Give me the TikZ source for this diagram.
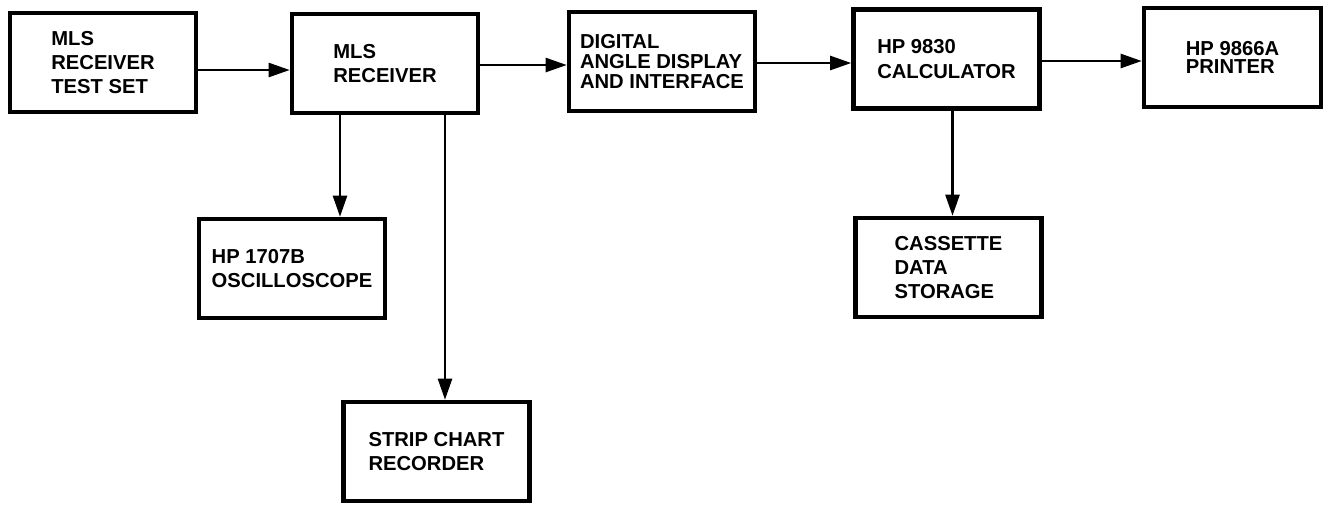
\documentclass[tikz,border=0pt]{standalone}
\usepackage{fontspec}
\setmainfont{Liberation Sans}
\usepackage{xcolor}
\usepackage{tikz}
\usetikzlibrary{arrows.meta, positioning}

\begin{document}
\begin{tikzpicture}[
    unit/.style={draw,line width=2.6pt,minimum width=3.72cm,minimum height=1.98cm,
      font=\fontsize{11.5}{13.5}\selectfont\bfseries,align=left,inner sep=2pt},
    arrow/.style={-{Triangle[length=0.42cm,width=0.28cm]},line width=1.4pt},
    >=Stealth
  ]
  \useasboundingbox (0,0) rectangle (26.56,-10.12);

  % Main chain (top row)
  \node[unit] (testset) at (2.06,-1.25) {MLS\\RECEIVER\\TEST SET};
  \node[unit] (receiver) at (7.70,-1.27) {MLS\\RECEIVER};
  \node[unit,font=\fontsize{11.5}{11.6}\selectfont\bfseries] (display) at (13.24,-1.23)
    {DIGITAL\\ANGLE DISPLAY\\AND INTERFACE};
  \node[unit,font=\fontsize{11.5}{14.2}\selectfont\bfseries] (calc) at (18.93,-1.18)
    {HP 9830\\CALCULATOR};
  \node[unit,minimum width=3.54cm,font=\fontsize{11.5}{10.6}\selectfont\bfseries]
    (printer) at (24.65,-1.15) {HP 9866A\\PRINTER};

  % Outputs below
  \node[unit] (scope) at (5.84,-5.37) {HP 1707B\\OSCILLOSCOPE};
  \node[unit] (strip) at (8.73,-9.03) {STRIP CHART\\RECORDER};
  \node[unit] (cassette) at (18.97,-5.35) {CASSETTE\\DATA\\STORAGE};

  % Signal flow
  \draw[arrow] ([yshift=-0.15cm]testset.east) -- ([yshift=-0.15cm]testset.east -| receiver.west);
  \draw[arrow] ([yshift=-0.03cm]receiver.east) -- ([yshift=-0.03cm]receiver.east -| display.west);
  \draw[arrow] ([yshift=-0.03cm]display.east) -- ([yshift=-0.03cm]display.east -| calc.west);
  \draw[arrow] ([yshift=-0.04cm]calc.east) -- ([yshift=-0.04cm]calc.east -| printer.west);

  % Branches
  \draw[arrow] ([xshift=-0.9cm]receiver.south) -- ([xshift=-0.9cm]receiver.south |- scope.north);
  \draw[arrow] ([xshift=1.2cm]receiver.south) -- ([xshift=1.2cm]receiver.south |- strip.north);
  \draw[arrow] ([xshift=0.12cm]calc.south) -- ([xshift=0.12cm]calc.south |- cassette.north);
\end{tikzpicture}
\end{document}
